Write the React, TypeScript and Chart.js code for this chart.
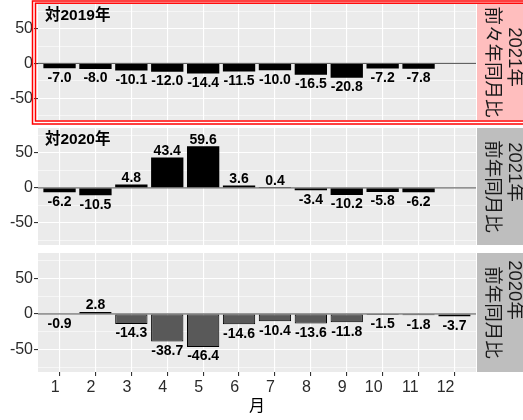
import React, { useEffect, useRef } from 'react';
import { Chart, registerables } from 'chart.js';

Chart.register(...registerables);

// ---- data ----
const months = [1, 2, 3, 4, 5, 6, 7, 8, 9, 10, 11, 12];
const vs2019Values: (number | null)[] = [-7.0, -8.0, -10.1, -12.0, -14.4, -11.5, -10.0, -16.5, -20.8, -7.2, -7.8, null];
const vs2020Values: (number | null)[] = [-6.2, -10.5, 4.8, 43.4, 59.6, 3.6, 0.4, -3.4, -10.2, -5.8, -6.2, null];
const yoy2020Values: (number | null)[] = [-0.9, 2.8, -14.3, -38.7, -46.4, -14.6, -10.4, -13.6, -11.8, -1.5, -1.8, -3.7];
const panelTitles = ['対2019年', '対2020年', ''];
const stripLine1 = ['2021年', '2021年', '2020年'];
const stripLine2 = ['前々年同月比', '前年同月比', '前年同月比'];
const yMajorTicks = [-50, 0, 50];
const yMinorTicks = [-75, -25, 25, 75];
const xTitle = '月';

const panelValues = [vs2019Values, vs2020Values, yoy2020Values];

// ---- layout / style ----
const W = 523;
const H = 420;
const FONT = "'Liberation Sans', Arial, 'Noto Sans CJK JP', sans-serif";
const panelTop = [4, 128, 253];
const panelBottom = [120, 245, 372];
const panelRight = 476;
const stripLeft = 477;
const stripColors = ['#FFBEBE', '#BEBEBE', '#BEBEBE'];
const barFill = ['#000000', '#000000', '#595959'];
const barBorder = [0, 0, 1];
const line1Center = [57, 172, 290];
const AXIS_TEXT = '#2B2B2B';

function makeConfig(i: number): any {
  const values = panelValues[i];
  const isBottom = i === 2;
  const yGridValues = [...yMinorTicks, ...yMajorTicks].sort((a, b) => a - b);

  const facetPlugin = {
    id: 'facet' + i,
    beforeDraw(chart: any) {
      const { ctx, chartArea: a } = chart;
      ctx.save();
      ctx.fillStyle = '#EBEBEB';
      ctx.fillRect(a.left, a.top, a.right - a.left, a.bottom - a.top);
      ctx.fillStyle = stripColors[i];
      ctx.fillRect(stripLeft, a.top, W - stripLeft + 10, a.bottom - a.top);
      ctx.restore();
    },
    beforeDatasetsDraw(chart: any) {
      const { ctx, chartArea: a } = chart;
      const y0 = chart.scales.y.getPixelForValue(0);
      ctx.save();
      ctx.strokeStyle = '#4D4D4D';
      ctx.lineWidth = 1;
      ctx.beginPath();
      ctx.moveTo(a.left, y0);
      ctx.lineTo(a.right, y0);
      ctx.stroke();
      ctx.restore();
    },
    afterDatasetsDraw(chart: any) {
      const { ctx, chartArea: a } = chart;
      const meta = chart.getDatasetMeta(0);
      ctx.save();
      ctx.font = `bold 14px ${FONT}`;
      ctx.fillStyle = '#000000';
      ctx.textAlign = 'center';
      ctx.textBaseline = 'middle';
      meta.data.forEach((bar: any, k: number) => {
        const v = values[k];
        if (v === null || v === undefined) return;
        const y = v >= 0 ? bar.y - 6.5 : bar.y + 9.5;
        ctx.fillText(v.toFixed(1), bar.x, y);
      });
      if (panelTitles[i]) {
        ctx.font = `bold 15.5px ${FONT}`;
        ctx.textAlign = 'left';
        ctx.fillText(panelTitles[i], a.left + 7, a.top + 12);
      }
      ctx.restore();
    },
    afterDraw(chart: any) {
      const { ctx, chartArea: a } = chart;
      ctx.save();
      ctx.font = `18.5px ${FONT}`;
      ctx.fillStyle = '#1A1A1A';
      ctx.textAlign = 'center';
      ctx.textBaseline = 'middle';
      const cx = 503;
      const mid = (a.top + a.bottom) / 2;
      ctx.save();
      ctx.translate(cx + 11, line1Center[i]);
      ctx.rotate(Math.PI / 2);
      ctx.fillText(stripLine1[i], 0, 0);
      ctx.restore();
      ctx.save();
      ctx.translate(cx - 11, mid);
      ctx.rotate(Math.PI / 2);
      ctx.fillText(stripLine2[i], 0, 0);
      ctx.restore();
      if (i === 0) {
        ctx.strokeStyle = '#FF0000';
        ctx.lineWidth = 1.5;
        ctx.strokeRect(32.5, 1, 600, 123);
        ctx.strokeRect(35.5, 3.2, 600, 117.8);
      }
      ctx.restore();
    },
  };

  return {
    type: 'bar',
    data: {
      datasets: [
        {
          data: months.map((m, k) => ({ x: m, y: values[k] })),
          backgroundColor: barFill[i],
          borderColor: '#000000',
          borderWidth: barBorder[i],
          borderSkipped: false,
          barPercentage: 0.9,
          categoryPercentage: 1,
        },
      ],
    },
    options: {
      responsive: false,
      animation: false,
      events: [],
      layout: {
        padding: {
          left: 0,
          right: W - panelRight,
          top: panelTop[i],
          bottom: isBottom ? 0 : H - panelBottom[i],
        },
      },
      plugins: {
        legend: { display: false },
        tooltip: { enabled: false },
        title: { display: false },
      },
      scales: {
        x: {
          type: 'linear',
          min: 0.4,
          max: 12.6,
          offset: false,
          afterBuildTicks: (axis: any) => {
            axis.ticks = months.map((v) => ({ value: v }));
          },
          afterFit: (axis: any) => {
            axis.height = isBottom ? H - panelBottom[i] : 0;
            axis.paddingLeft = 0;
            axis.paddingRight = 0;
          },
          border: { display: false },
          grid: {
            color: '#FFFFFF',
            lineWidth: 1.1,
            offset: false,
            drawTicks: isBottom,
            tickLength: 4,
            tickColor: '#333333',
          },
          ticks: {
            display: isBottom,
            autoSkip: false,
            maxRotation: 0,
            minRotation: 0,
            align: 'end',
            padding: 2,
            color: AXIS_TEXT,
            font: { family: FONT, size: 16 },
          },
          title: {
            display: isBottom,
            text: xTitle,
            color: '#000000',
            font: { family: FONT, size: 16 },
            padding: { top: 0, bottom: 4 },
          },
        },
        y: {
          type: 'linear',
          min: -81.5,
          max: 85.5,
          afterBuildTicks: (axis: any) => {
            axis.ticks = yGridValues.map((v) => ({ value: v }));
          },
          afterFit: (axis: any) => {
            axis.width = 38;
            axis.paddingTop = 0;
            axis.paddingBottom = 0;
          },
          border: { display: false },
          grid: {
            color: '#FFFFFF',
            lineWidth: (ctx: any) => (yMajorTicks.includes(ctx.tick?.value) ? 1.1 : 0.55),
            tickColor: (ctx: any) => (yMajorTicks.includes(ctx.tick?.value) ? '#333333' : 'rgba(0,0,0,0)'),
            tickLength: 4,
            drawTicks: true,
          },
          ticks: {
            autoSkip: false,
            padding: 1,
            color: AXIS_TEXT,
            font: { family: FONT, size: 16 },
            callback: (v: any) => (yMajorTicks.includes(v) ? String(v) : ''),
          },
        },
      },
    },
    plugins: [facetPlugin],
  };
}

function Panel({ index }: { index: number }) {
  const ref = useRef<HTMLCanvasElement | null>(null);
  useEffect(() => {
    if (!ref.current) return;
    const chart = new Chart(ref.current, makeConfig(index));
    return () => chart.destroy();
  }, [index]);
  return (
    <canvas
      ref={ref}
      width={W}
      height={H}
      style={{ position: 'absolute', left: 0, top: 0, width: W, height: H, pointerEvents: 'none' }}
    />
  );
}

export default function App() {
  return (
    <div style={{ position: 'fixed', left: 0, top: 0, width: W, height: H, background: '#FFFFFF', overflow: 'hidden' }}>
      <Panel index={0} />
      <Panel index={1} />
      <Panel index={2} />
    </div>
  );
}
